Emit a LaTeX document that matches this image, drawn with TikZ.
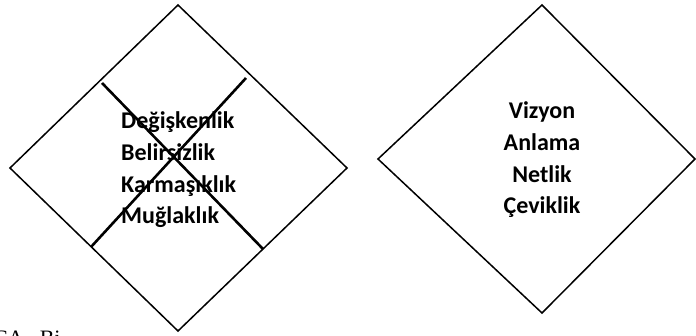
\documentclass[tikz,border=0pt]{standalone}
\usepackage{fontspec}
\setmainfont{Liberation Serif}
\newfontfamily\calibrifont{Carlito}

\begin{document}
\begin{tikzpicture}[
				x=1pt, y=-1pt,
				shape line/.style={
					draw,
					line width=1.5pt,
					line join=miter
				},
				cross line/.style={
					draw,
					line width=2.6pt
				},
				list style/.style={
					align=left,
					inner sep=0pt,
					font=\calibrifont\bfseries\fontsize{24}{31.7}\selectfont
				}
				]
				\useasboundingbox (0,0) rectangle (696,336);
				
				% left diamond
				\coordinate (top1) at (178,5);
				\coordinate (left1) at (10,168);
				\coordinate (bottom1) at (178,331);
				\coordinate (right1) at (347,168);
				\draw[shape line] (top1) -- (right1) -- (bottom1) -- (left1) -- cycle;
				
				% cross over the left list
				\coordinate (crossA1) at (102,83);
				\coordinate (crossA2) at (263,249);
				\coordinate (crossB1) at (246,78);
				\coordinate (crossB2) at (91,247);
				\draw[cross line] (crossA1) -- (crossA2);
				\draw[cross line] (crossB1) -- (crossB2);
				
				\node[list style, anchor=west] (list1) at (121,170)
				{Değişkenlik\\Belirsizlik\\Karmaşıklık\\Muğlaklık};
				
				% right diamond
				\coordinate (top2) at (542,5);
				\coordinate (left2) at (378,159);
				\coordinate (bottom2) at (542,313);
				\coordinate (right2) at (695,159);
				\draw[shape line] (top2) -- (right2) -- (bottom2) -- (left2) -- cycle;
				
				\node[list style, align=center] (list2) at (542,160)
				{Vizyon\\Anlama\\Netlik\\Çeviklik};
				
				\node[anchor=base west, inner sep=0pt, font=\fontsize{22}{24}\selectfont] (caption) at (-7,345.5) {CA\hspace{16pt}Bi};
				
			\end{tikzpicture}
\end{document}
